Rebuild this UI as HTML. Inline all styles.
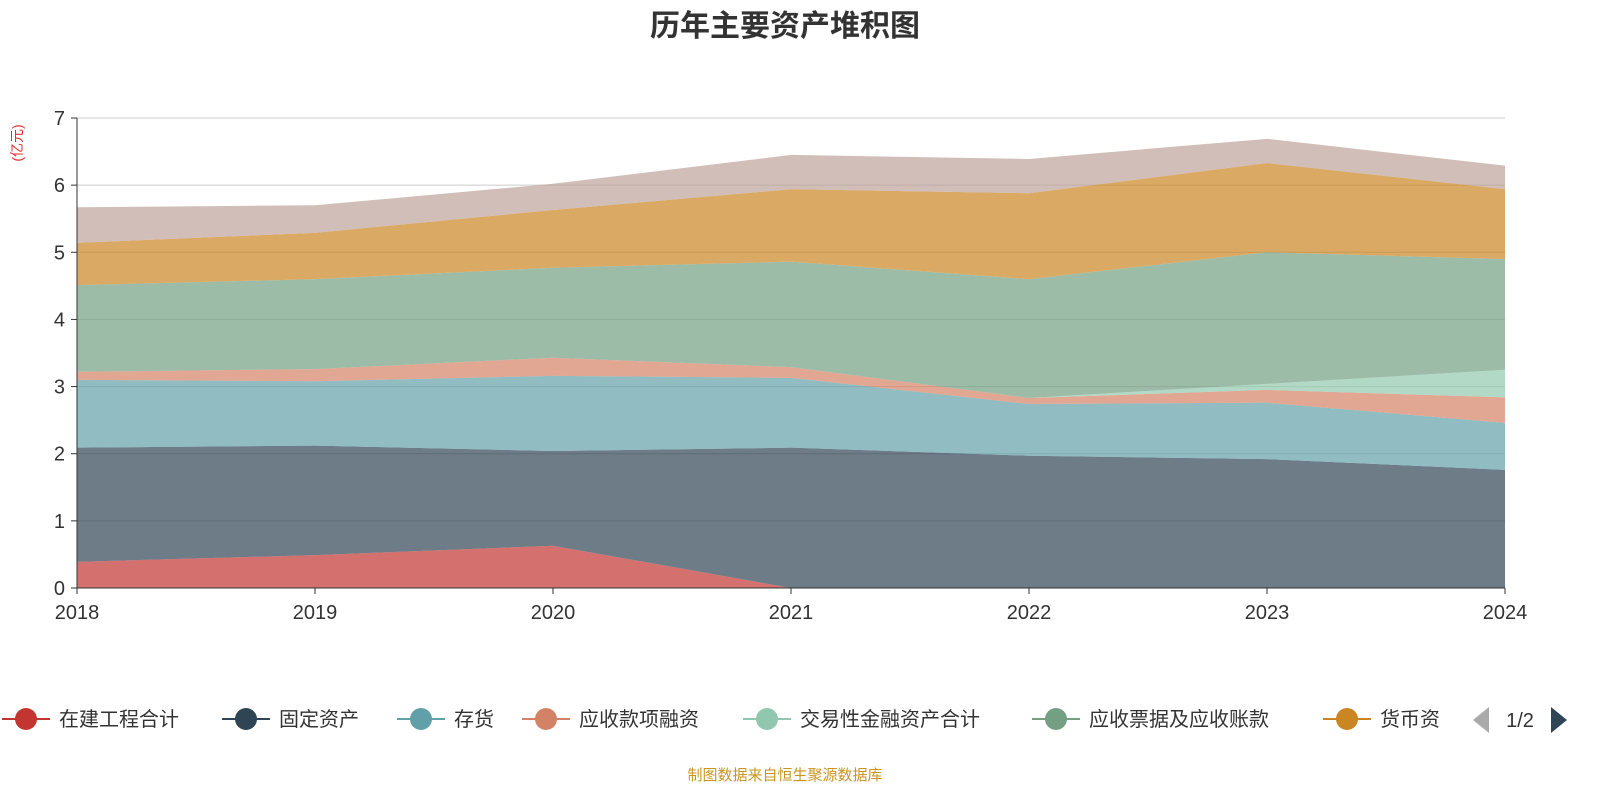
<!DOCTYPE html>
<html><head><meta charset="utf-8"><style>
body{margin:0;background:#fff;font-family:"Liberation Sans","Noto Sans CJK SC",sans-serif;}
svg text{font-family:"Liberation Sans","Noto Sans CJK SC",sans-serif;}
</style></head><body>
<svg id="c" width="1600" height="800">
<text x="785" y="36" text-anchor="middle" font-size="30" font-weight="bold" fill="#333">历年主要资产堆积图</text>
<text transform="translate(22,143) rotate(-90)" text-anchor="middle" font-size="14" fill="#e03030">(亿元)</text>
<g id="grid"></g><g id="areas"></g><g id="axes"></g><g id="legend"></g>
<text x="785" y="780" text-anchor="middle" font-size="15" fill="#c8961e">制图数据来自恒生聚源数据库</text>
</svg>
<script>
const years=['2018','2019','2020','2021','2022','2023','2024'];
const seriesNames=['在建工程合计','固定资产','存货','应收款项融资','交易性金融资产合计','应收票据及应收账款','货币资金','其他'];
const s0=[0.39,0.49,0.63,0,0,0,0];
const s1=[1.70,1.63,1.41,2.09,1.97,1.92,1.76];
const s2=[1.01,0.96,1.12,1.04,0.77,0.84,0.70];
const s3=[0.12,0.18,0.27,0.16,0.09,0.19,0.38];
const s4=[0,0,0,0,0,0.09,0.41];
const s5=[1.29,1.34,1.34,1.57,1.77,1.96,1.65];
const s6=[0.63,0.69,0.86,1.08,1.28,1.33,1.04];
const s7=[0.53,0.41,0.39,0.51,0.51,0.36,0.35];
const yTicks=[0,1,2,3,4,5,6,7];
const series=[s0,s1,s2,s3,s4,s5,s6,s7];
const colors=['#c23531','#2f4554','#61a0a8','#d48265','#91c7ae','#749f83','#ca8622','#bda29a'];
const NS='http://www.w3.org/2000/svg';
const X0=77,X1=1505,Y0=588,Y1=118;
const xs=i=>X0+(X1-X0)*i/(years.length-1);
const ys=v=>Y0-(Y0-Y1)*v/7;
function mk(t,a,p){const e=document.createElementNS(NS,t);for(const k in a)e.setAttribute(k,a[k]);p.appendChild(e);return e;}
const grid=document.getElementById('grid'),axes=document.getElementById('axes'),areas=document.getElementById('areas');
yTicks.forEach(v=>{
 if(v>0){const l=mk('line',{x1:X0,x2:X1,y1:ys(v),y2:ys(v),stroke:'#ccc'},grid);
 
 }
 const t=mk('text',{x:X0-12,y:ys(v)+7,'text-anchor':'end','font-size':20,fill:'#333'},axes);t.textContent=v;
 
 
 mk('line',{x1:X0-6,x2:X0,y1:ys(v),y2:ys(v),stroke:'#333'},axes);
});
let base=years.map(()=>0);
series.forEach((s,k)=>{
 const top=base.map((b,i)=>b+s[i]);
 let d='M'+years.map((_,i)=>xs(i)+','+ys(top[i])).join('L');
 for(let i=years.length-1;i>=0;i--)d+='L'+xs(i)+','+ys(base[i]);
 const p=mk('path',{d:d+'Z',fill:colors[k],'fill-opacity':0.7},areas);
 
 
 base=top;
});
mk('line',{x1:X0,x2:X0,y1:Y1,y2:Y0,stroke:'#333'},axes);
mk('line',{x1:X0,x2:X1,y1:Y0,y2:Y0,stroke:'#333'},axes);
years.forEach((y,i)=>{
 mk('line',{x1:xs(i),x2:xs(i),y1:Y0,y2:Y0+6,stroke:'#333'},axes);
 const t=mk('text',{x:xs(i),y:Y0+31,'text-anchor':'middle','font-size':20,fill:'#333'},axes);t.textContent=y;
 
 
});
const lg=document.getElementById('legend');
const lx=[2,222,397,522,743,1032,1323];
const lbl=['在建工程合计','固定资产','存货','应收款项融资','交易性金融资产合计','应收票据及应收账款','货币资'];
lbl.forEach((n,k)=>{
 const g=mk('g',{},lg);
 
 
 mk('line',{x1:lx[k],x2:lx[k]+48,y1:719,y2:719,stroke:colors[k],'stroke-width':2},g);
 mk('circle',{cx:lx[k]+24,cy:719,r:11,fill:colors[k]},g);
 const t=mk('text',{x:lx[k]+57,y:726,'font-size':20,fill:'#333'},g);t.textContent=n;
});
const pa=mk('path',{d:'M1489,707L1473,720L1489,733Z',fill:'#aaa'},lg);


const pt=mk('text',{x:1520,y:727,'text-anchor':'middle','font-size':20,fill:'#333'},lg);pt.textContent='1/2';


const pn=mk('path',{d:'M1551,707L1567,720L1551,733Z',fill:'#2f4554'},lg);


</script>
</body></html>
